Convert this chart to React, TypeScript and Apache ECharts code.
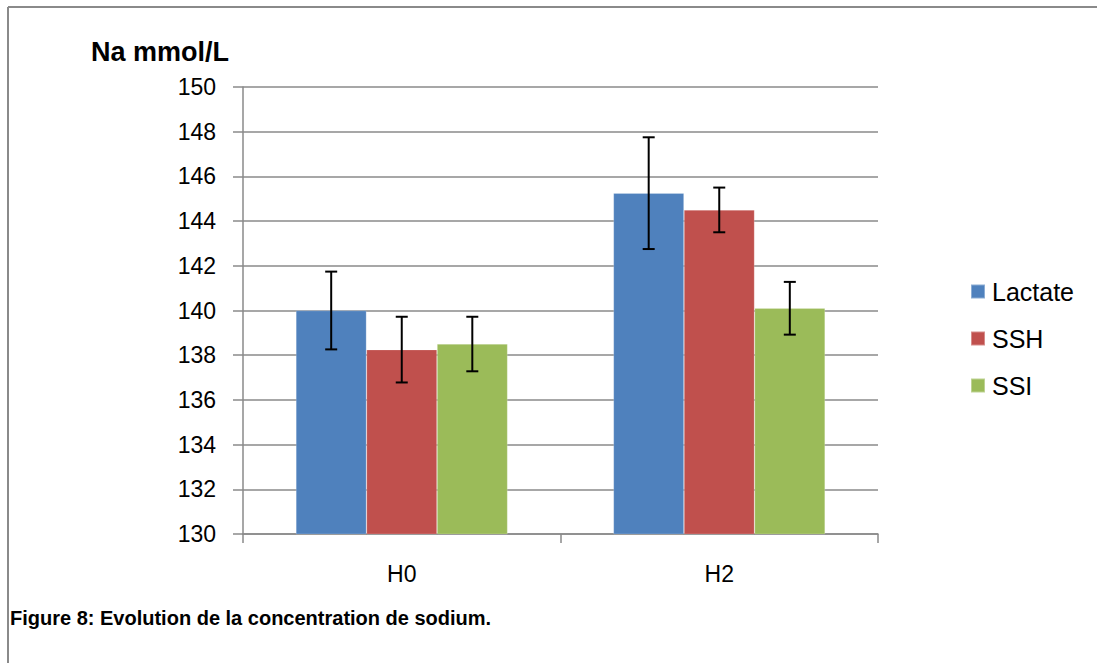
import React, { useEffect, useRef } from "react";
import * as echarts from "echarts";

const categories = ["H0", "H2"];
const seriesNames = ["Lactate", "SSH", "SSI"];
const lactateValues = [140.0, 145.25];
const sshValues = [138.25, 144.5];
const ssiValues = [138.5, 140.1];
const lactateErrors = [1.74, 2.5];
const sshErrors = [1.47, 1.0];
const ssiErrors = [1.22, 1.18];
const colors = ["#4F81BD", "#C0504D", "#9BBB59"];
const yTicks = { min: 130, max: 150, interval: 2 };

const FONT = "'Liberation Sans', Arial, Helvetica, sans-serif";
const CAT_GAP = 0.3333;

export default function App() {
  const ref = useRef<HTMLDivElement>(null);

  useEffect(() => {
    if (!ref.current) return;
    const chart = echarts.init(ref.current, undefined, { renderer: "svg" });
    const valueSets = [lactateValues, sshValues, ssiValues];
    const errorSets = [lactateErrors, sshErrors, ssiErrors];

    const barSeries = seriesNames.map((name, i) => ({
      name,
      type: "bar",
      data: valueSets[i],
      barGap: "0%",
      barCategoryGap: "33.33%",
      itemStyle: { color: colors[i], borderColor: "rgba(255,255,255,0.35)", borderWidth: 0.6 },
      z: 2,
    }));

    const errSeries = seriesNames.map((name, i) => ({
      name: name + "-err",
      type: "custom",
      data: valueSets[i].map((v, k) => [k, v, errorSets[i][k]]),
      z: 5,
      silent: true,
      renderItem: (params: any, api: any) => {
        const cat = api.value(0);
        const v = api.value(1);
        const e = api.value(2);
        const band = api.size([1, 0])[0];
        const barW = (band * (1 - CAT_GAP)) / 3;
        const center = api.coord([cat, v]);
        const x = center[0] + (i - 1) * barW;
        const yTop = api.coord([cat, v + e])[1];
        const yBot = api.coord([cat, v - e])[1];
        const cap = 6;
        const style = { stroke: "#000", lineWidth: 2 };
        return {
          type: "group",
          children: [
            { type: "line", shape: { x1: x, y1: yTop, x2: x, y2: yBot }, style },
            { type: "line", shape: { x1: x - cap, y1: yTop, x2: x + cap, y2: yTop }, style },
            { type: "line", shape: { x1: x - cap, y1: yBot, x2: x + cap, y2: yBot }, style },
          ],
        };
      },
    }));

    chart.setOption({
      animation: false,
      backgroundColor: "#ffffff",
      textStyle: { fontFamily: FONT },
      title: {
        text: "Na mmol/L",
        left: 86,
        top: 33,
        textStyle: { fontFamily: FONT, fontSize: 27, fontWeight: "bold", color: "#000" },
      },
      legend: {
        data: seriesNames.map((n, i) => ({ name: n, itemStyle: { color: colors[i] } })),
        orient: "vertical",
        left: 970,
        top: 279,
        padding: 0,
        icon: "rect",
        itemWidth: 14,
        itemHeight: 14,
        itemGap: 22,
        textStyle: { fontFamily: FONT, fontSize: 25, color: "#000", lineHeight: 25, padding: [0, 0, 0, 2] },
      },
      grid: { left: 243, top: 87, width: 635, height: 447, containLabel: false },
      xAxis: {
        type: "category",
        data: categories,
        axisLine: { lineStyle: { color: "#8a8a8a", width: 1.5 } },
        axisTick: { show: true, length: 9, lineStyle: { color: "#8a8a8a", width: 1.5 } },
        axisLabel: { fontFamily: FONT, fontSize: 23, color: "#000", margin: 28 },
        splitLine: { show: false },
      },
      yAxis: {
        type: "value",
        min: yTicks.min,
        max: yTicks.max,
        interval: yTicks.interval,
        axisLine: { show: true, lineStyle: { color: "#8a8a8a", width: 1.5 } },
        axisTick: { show: true, length: 10, lineStyle: { color: "#8a8a8a", width: 1.5 } },
        axisLabel: { fontFamily: FONT, fontSize: 23, color: "#000", margin: 27 },
        splitLine: { show: true, lineStyle: { color: "#8a8a8a", width: 1.5 } },
      },
      graphic: [
        { type: "line", shape: { x1: 8, y1: 7, x2: 1097, y2: 7 }, style: { stroke: "#8a8a8a", lineWidth: 2 } },
        { type: "line", shape: { x1: 8, y1: 7, x2: 8, y2: 663 }, style: { stroke: "#8a8a8a", lineWidth: 2 } },
        {
          type: "text",
          left: 10,
          top: 608,
          style: {
            text: "Figure 8: Evolution de la concentration de sodium.",
            fontFamily: FONT,
            fontSize: 20,
            fontWeight: "bold",
            fill: "#000",
          },
        },
      ],
      series: [...barSeries, ...errSeries],
    });
    return () => chart.dispose();
  }, []);

  return (
    <div
      ref={ref}
      style={{ position: "fixed", left: 0, top: 0, width: 1097, height: 663 }}
    />
  );
}
